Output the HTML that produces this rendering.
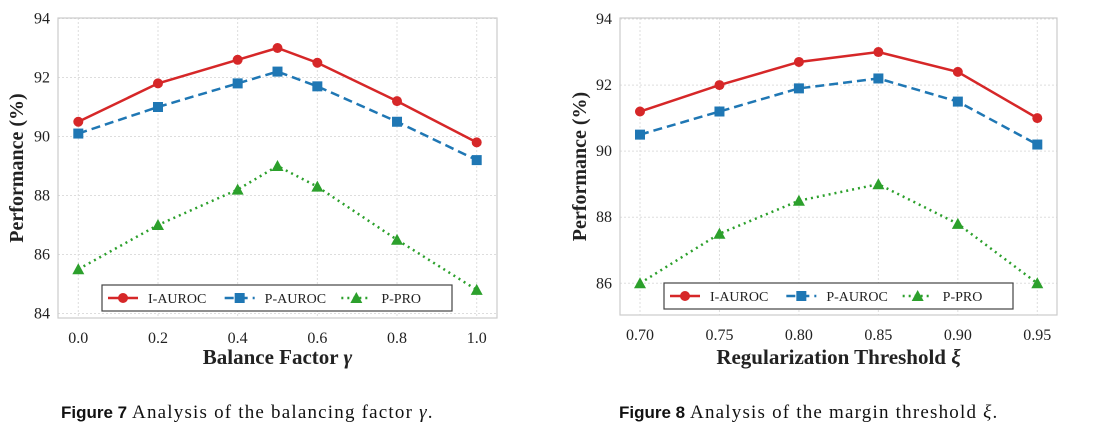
<!DOCTYPE html>
<html><head><meta charset="utf-8"><style>
body{margin:0;background:#fff;width:1101px;height:436px;overflow:hidden}
svg{display:block}
.tick{font-family:"Liberation Serif",serif;font-size:16px;fill:#222}
.title{font-family:"Liberation Serif",serif;font-size:21px;font-weight:bold;fill:#222}
.ytitle{font-family:"Liberation Serif",serif;font-size:20px;font-weight:bold;fill:#222}
.leg{font-family:"Liberation Serif",serif;font-size:14px;fill:#222}
.cap{font-family:"Liberation Serif",serif;font-size:19px;fill:#111;letter-spacing:1.2px}
.capb{font-family:"Liberation Sans",sans-serif;font-size:17px;font-weight:bold;fill:#111;letter-spacing:0}
</style></head><body>
<svg id="svg" width="1101" height="436"></svg>
<script>
const xLabels1 = ["0.0","0.2","0.4","0.6","0.8","1.0"];
const xTicks1 = [0,0.2,0.4,0.6,0.8,1.0];
const xVals1 = [0,0.2,0.4,0.5,0.6,0.8,1.0];
const iAuroc1 = [90.5,91.8,92.6,93.0,92.5,91.2,89.8];
const pAuroc1 = [90.1,91.0,91.8,92.2,91.7,90.5,89.2];
const pPro1 = [85.5,87.0,88.2,89.0,88.3,86.5,84.8];
const yTicks1 = [84,86,88,90,92,94];

const xLabels2 = ["0.70","0.75","0.80","0.85","0.90","0.95"];
const xVals2 = [0.70,0.75,0.80,0.85,0.90,0.95];
const iAuroc2 = [91.2,92.0,92.7,93.0,92.4,91.0];
const pAuroc2 = [90.5,91.2,91.9,92.2,91.5,90.2];
const pPro2 = [86.0,87.5,88.5,89.0,87.8,86.0];
const yTicks2 = [86,88,90,92,94];

const NS="http://www.w3.org/2000/svg";
const svg=document.getElementById('svg');
function mk(tag,attrs,parent){const e=document.createElementNS(NS,tag);for(const k in attrs)e.setAttribute(k,attrs[k]);(parent||svg).appendChild(e);return e;}

function chart(cfg){
  const g=mk('g',{});
  
  
  const X=v=>cfg.px0+(v-cfg.x0)*(cfg.px1-cfg.px0)/(cfg.x1-cfg.x0);
  const Y=v=>cfg.py0+(cfg.y0-v)*(cfg.py1-cfg.py0)/(cfg.y0-cfg.y1);
  cfg.yTicks.forEach(t=>{
    const l=mk('line',{x1:cfg.fx0,x2:cfg.fx1,y1:Y(t),y2:Y(t),stroke:'#ddd','stroke-width':1,'stroke-dasharray':'2,2'},g);
    
    
    const tx=mk('text',{x:cfg.fx0-8,y:Y(t)+5,'text-anchor':'end',class:'tick'},g);tx.textContent=t;
    
    
  });
  cfg.xTicks.forEach((t,i)=>{
    const l=mk('line',{x1:X(t),x2:X(t),y1:cfg.fy0,y2:cfg.fy1,stroke:'#ddd','stroke-width':1,'stroke-dasharray':'2,2'},g);
    
    
    const tx=mk('text',{x:X(t),y:cfg.fy1+25,'text-anchor':'middle',class:'tick'},g);tx.textContent=cfg.xLabels[i];
    
    
  });
  const fr=mk('rect',{x:cfg.fx0,y:cfg.fy0,width:cfg.fx1-cfg.fx0,height:cfg.fy1-cfg.fy0,fill:'none',stroke:'#ccc','stroke-width':1.2},g);
  
  
  const series=[
    {v:cfg.i,c:'#d62728',d:'',m:'circle',n:'i-auroc'},
    {v:cfg.p,c:'#1f77b4',d:'9,5',m:'square',n:'p-auroc'},
    {v:cfg.r,c:'#2ca02c',d:'2,4',m:'tri',n:'p-pro'}];
  function marker(m,x,y,c,parent){
    let e;
    if(m==='circle')e=mk('circle',{cx:x,cy:y,r:5,fill:c},parent);
    else if(m==='square')e=mk('rect',{x:x-5,y:y-5,width:10,height:10,fill:c},parent);
    else e=mk('polygon',{points:`${x},${y-6} ${x+6},${y+5} ${x-6},${y+5}`,fill:c},parent);
    return e;
  }
  series.forEach(s=>{
    const pts=s.v.map((v,i)=>X(cfg.xv[i])+','+Y(v)).join(' ');
    const pl=mk('polyline',{points:pts,fill:'none',stroke:s.c,'stroke-width':2.5,'stroke-dasharray':s.d},g);
    
    
    s.v.forEach((v,i)=>{
      const e=marker(s.m,X(cfg.xv[i]),Y(v),s.c,g);
      
      
    });
  });
  const lg=mk('g',{},g);
  
  
  mk('rect',{x:cfg.lx,y:cfg.ly,width:cfg.lw,height:26,fill:'#fff',stroke:'#444','stroke-width':1.2},lg);
  const labels=['I-AUROC','P-AUROC','P-PRO'];
  series.forEach((s,k)=>{
    const bx=cfg.lx+6+k*(cfg.lw/3), cy=cfg.ly+13;
    const e=mk('g',{},lg);
    
    
    mk('line',{x1:bx,x2:bx+30,y1:cy,y2:cy,stroke:s.c,'stroke-width':2.5,'stroke-dasharray':s.d},e);
    marker(s.m,bx+15,cy,s.c,e);
    const t=mk('text',{x:bx+40,y:cy+5,class:'leg'},e);t.textContent=labels[k];
  });
  const xt=mk('text',{x:(cfg.fx0+cfg.fx1)/2,y:364,'text-anchor':'middle',class:'title'},g);
  xt.innerHTML=cfg.xTitle;
  
  
  const yt=mk('text',{x:0,y:0,'text-anchor':'middle',class:'ytitle',transform:`translate(${cfg.ytx},${(cfg.fy0+cfg.fy1)/2}) rotate(-90)`},g);
  yt.textContent='Performance (%)';
  
  
  const cap=mk('text',{x:cfg.capx,y:418,class:'cap'},g);
  cap.innerHTML=`<tspan class="capb">${cfg.capB}</tspan>  ${cfg.cap}`;
  
  
}
chart({name:'chart-balance-factor',x0:0,x1:1,px0:78.3,px1:476.7,y0:94,y1:84,py0:18.5,py1:313.5,
  fx0:58,fx1:497,fy0:18,fy1:318,yTicks:yTicks1,xTicks:xTicks1,xLabels:xLabels1,xv:xVals1,
  i:iAuroc1,p:pAuroc1,r:pPro1,lx:102,ly:285,lw:350,
  xTitle:'Balance Factor <tspan font-style="italic">γ</tspan>',ytx:23,capx:61,
  capB:'Figure 7',cap:'Analysis of the balancing factor <tspan font-style="italic">γ</tspan>.'});
chart({name:'chart-regularization-threshold',x0:0.70,x1:0.95,px0:640,px1:1037.3,y0:94,y1:86,py0:19,py1:283.3,
  fx0:620,fx1:1057,fy0:18,fy1:315,yTicks:yTicks2,xTicks:xVals2,xLabels:xLabels2,xv:xVals2,
  i:iAuroc2,p:pAuroc2,r:pPro2,lx:664,ly:283,lw:349,
  xTitle:'Regularization Threshold <tspan font-style="italic">ξ</tspan>',ytx:586,capx:619,
  capB:'Figure 8',cap:'Analysis of the margin threshold <tspan font-style="italic">ξ</tspan>.'});
</script>
</body></html>
